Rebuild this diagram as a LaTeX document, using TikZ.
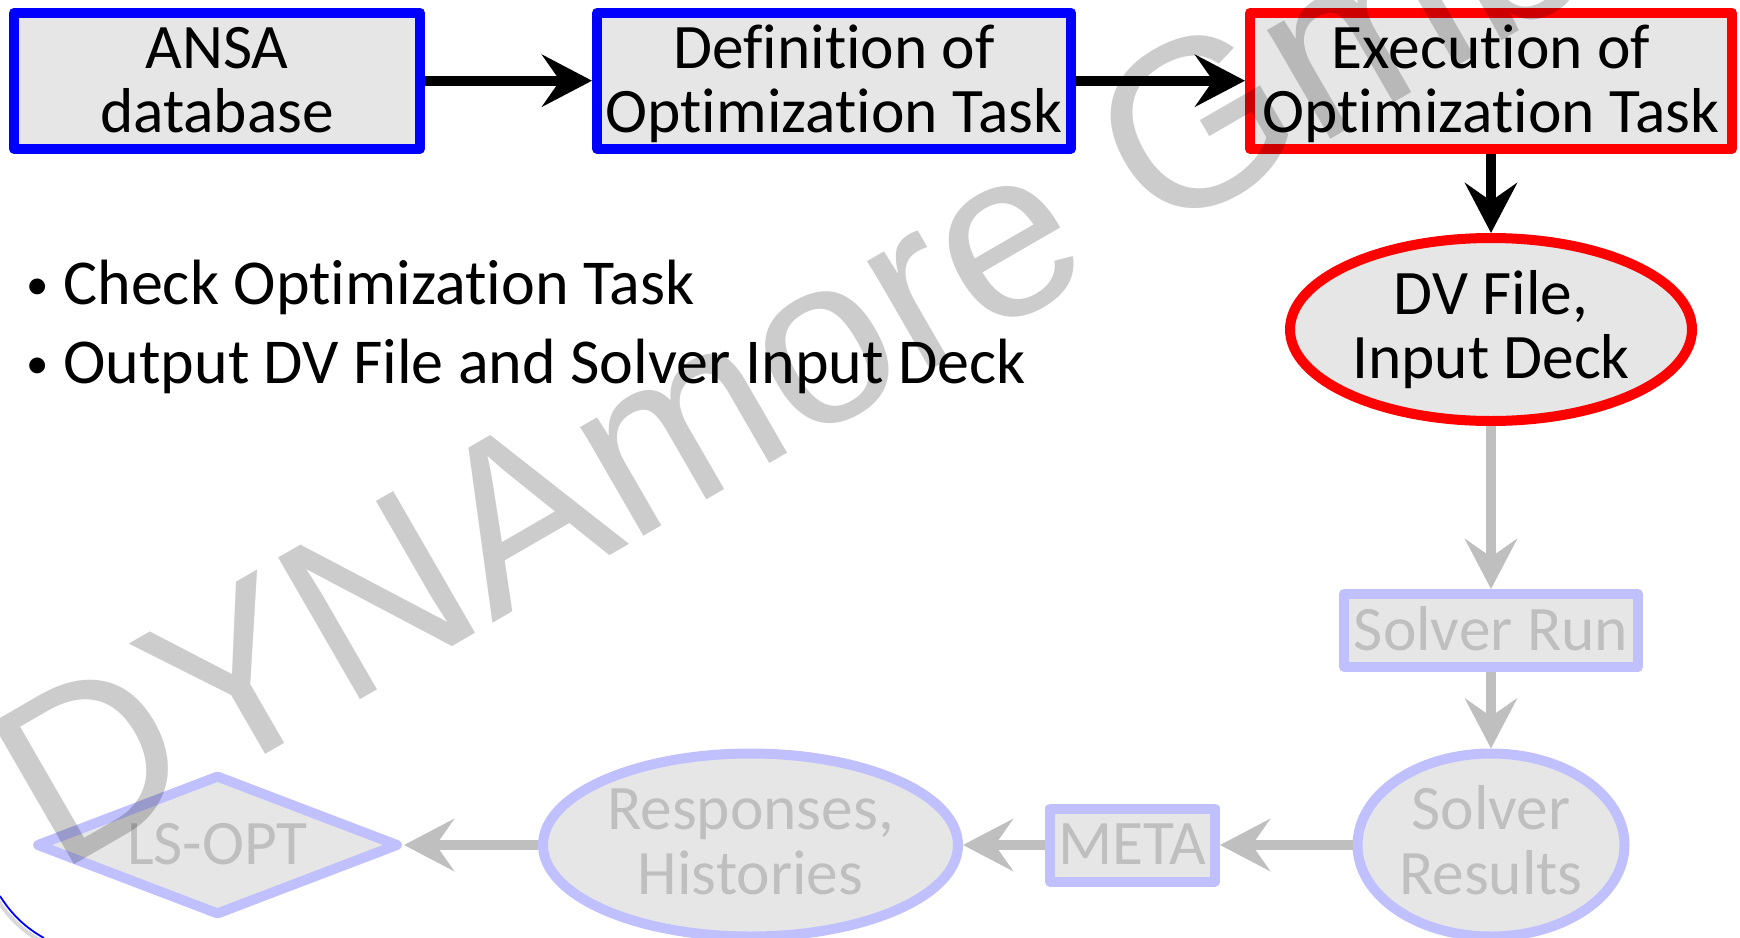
\documentclass[tikz,border=0pt]{standalone}
\usepackage{fontspec}
\setmainfont{Carlito}[Ligatures={NoCommon}]
\newfontfamily\wmfont{Liberation Sans}
\usetikzlibrary{arrows.meta,shapes.geometric}
\definecolor{actblue}{RGB}{0,0,255}
\definecolor{actred}{RGB}{255,0,0}
\definecolor{boxfill}{RGB}{230,230,230}
\definecolor{fadeblue}{RGB}{192,192,255}
\definecolor{fadegray}{RGB}{191,191,191}
\newcommand\Sa{\rule[-5.8pt]{0pt}{31.3pt}}
\newcommand\Sd{\rule[-8.7pt]{0pt}{34.2pt}}
\newcommand\bulletmark{\makebox[25.5pt][l]{\hspace{6.9pt}\raisebox{2.5pt}{\scalebox{0.7}{•}}}}
\begin{document}
\begin{tikzpicture}[x=0.5pt, y=-0.5pt,
  txtfont/.style={font=\fontsize{31.7}{32.3}\selectfont, inner sep=0pt},
  bultxt/.style={font=\fontsize{32}{32.3}\selectfont, inner sep=0pt},
  txt/.style={txtfont, align=center},
  shp/.style={line width=5pt, line join=round, fill=boxfill, inner sep=0pt},
  actbox/.style={shp, rectangle, draw=actblue, minimum height=68pt, txt},
  execbox/.style={shp, rectangle, draw=actred, minimum height=68pt, txt},
  fadebox/.style={shp, rectangle, draw=fadeblue, minimum height=36.5pt, txt, text=fadegray},
  ell/.style={shp, ellipse, minimum height=91.5pt},
  lbl/.style={txt, draw=none, fill=none},
  blkarrow/.style={line width=5pt, -{Stealth[length=25pt,width=26pt,inset=9pt]}},
  gryarrow/.style={blkarrow, draw=fadegray},
  wm/.style={font=\wmfont\fontsize{119}{119}\selectfont, text=black, text opacity=0.2, inner sep=0pt}
]
\useasboundingbox (0,0) rectangle (1740,937);
\clip (0,0) rectangle (1740,937);

% top row
\node[actbox, minimum width=203pt] (ansa) at (217,80.7) {ANSA\Sa\\database\Sa};
\node[actbox, minimum width=237pt] (def) at (834,80.7) {Definition of\Sa\\Optimization Task\Sa};
\node[execbox, minimum width=241pt] (exec) at (1491,80.7) {Execution of\Sa\\Optimization Task\Sa};

% right column and bottom row
\node[ell, draw=actred, minimum width=201pt,
      label={[lbl]center:{DV File,\Sa\\Input Deck\Sd}}] (dv) at (1491,329.5) {};
\node[fadebox, minimum width=147pt] (srun) at (1491,630.5) {Solver Run\Sa};
\node[ell, draw=fadeblue, minimum width=133.5pt,
      label={[lbl, text=fadegray]center:{Solver\Sa\\Results\Sd}}] (sres) at (1491,845) {};
\node[fadebox, minimum width=82.5pt] (meta) at (1132.5,845) {META\Sa};
\node[ell, draw=fadeblue, minimum width=207.5pt,
      label={[lbl, text=fadegray]center:{Responses,\Sa\\Histories\Sd}}] (resp) at (750.5,845) {};
\node[shp, diamond, draw=fadeblue, minimum width=181.5pt, minimum height=70.5pt,
      label={[lbl, text=fadegray]center:{LS-OPT\Sa}}] (lsopt) at (217.5,845) {};

% connectors
\draw[blkarrow] (ansa) -- (def);
\draw[blkarrow] (def) -- (exec);
\draw[blkarrow] (exec) -- (dv);
\draw[gryarrow] (dv) -- (srun);
\draw[gryarrow] (srun) -- (sres);
\draw[gryarrow] (sres) -- (meta);
\draw[gryarrow] (meta) -- (resp);
\draw[gryarrow] (resp) -- (lsopt);

% bullet text
\node[bultxt, anchor=base west] (bul1) at (12,304) {\bulletmark Check Optimization Task};
\node[bultxt, anchor=base west] (bul2) at (12,383) {\bulletmark Output DV File and Solver Input Deck};

% blue arc fragment in the corner
\draw[black!25, line width=2pt, opacity=0.6] (-3,899) .. controls (9,918) and (23,931) .. (41,941);
\draw[actblue, line width=0.9pt] (0,896) .. controls (12,915) and (26,928) .. (44,938);

% watermark
\node[wm, anchor=base west, rotate=30] (wmark) at (57,875) {DYNAmore GmbH};
\end{tikzpicture}
\end{document}
